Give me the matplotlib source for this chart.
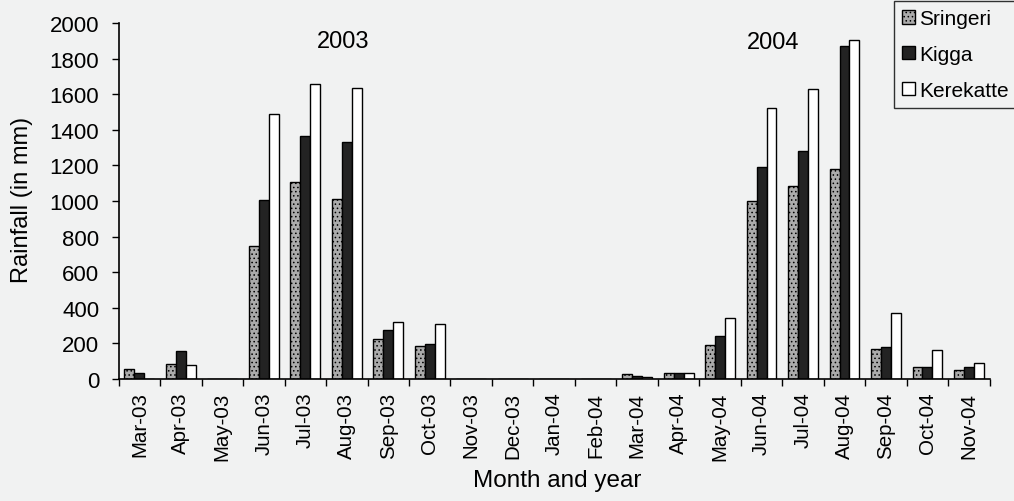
import numpy as np
import matplotlib
matplotlib.use("Agg")
import matplotlib.pyplot as plt

plt.rcParams["font.family"] = ["Liberation Sans", "DejaVu Sans"]
plt.rcParams["hatch.linewidth"] = 0.6

months = ["Mar-03", "Apr-03", "May-03", "Jun-03", "Jul-03", "Aug-03", "Sep-03",
          "Oct-03", "Nov-03", "Dec-03", "Jan-04", "Feb-04", "Mar-04", "Apr-04",
          "May-04", "Jun-04", "Jul-04", "Aug-04", "Sep-04", "Oct-04", "Nov-04"]
sringeri = [56, 84, 0, 745, 1105, 1010, 225, 187, 0, 0, 0, 0,
            30, 32, 189, 1000, 1086, 1180, 168, 67, 48]
kigga = [34, 159, 0, 1007, 1363, 1330, 275, 197, 0, 0, 0, 0,
         17, 32, 242, 1193, 1279, 1870, 181, 67, 67]
kerekatte = [0, 79, 0, 1489, 1657, 1633, 318, 309, 0, 0, 0, 0,
             10, 35, 344, 1524, 1627, 1906, 372, 163, 90]
series = [("Sringeri", sringeri), ("Kigga", kigga), ("Kerekatte", kerekatte)]
styles = {"Sringeri": dict(color="#ababab", hatch="...."),
          "Kigga": dict(color="#232323", hatch=None),
          "Kerekatte": dict(color="white", hatch=None)}
years = [("2003", 4.92, 1900), ("2004", 15.29, 1893)]

bg = "#f1f2f2"
fig = plt.figure(figsize=(10.14, 5.02), dpi=100, facecolor=bg)
ax = fig.add_axes([0.117, 0.243, 0.859, 0.709], facecolor=bg)

x = np.arange(len(months))
w = 0.24
for i, (name, vals) in enumerate(series):
    st = styles[name]
    ax.bar(x + (i - 1) * w, vals, w, color=st["color"], hatch=st["hatch"],
           edgecolor="black", linewidth=1.0, label=name)

for label, xpos, ypos in years:
    ax.text(xpos, ypos, label, ha="center", va="center", fontsize=17)

ax.set_xlim(-0.5, len(months) - 0.5)
ax.set_ylim(0, 2000)
ax.set_yticks(np.arange(0, 2001, 200))
ax.set_xticks(x)
ax.set_xticklabels(months, rotation=90, fontsize=14.8)
ax.set_xticks(np.arange(-0.5, len(months), 1), minor=True)
ax.tick_params(axis="x", which="major", length=0, pad=9)
ax.tick_params(axis="x", which="minor", length=5, width=1)
ax.tick_params(axis="y", labelsize=16, length=5, width=1, pad=9)
for s in ["top", "right"]:
    ax.spines[s].set_visible(False)
ax.spines["left"].set_linewidth(1.2)
ax.spines["bottom"].set_linewidth(1.2)

ax.set_ylabel("Rainfall (in mm)", fontsize=17)
ax.yaxis.set_label_coords(-0.098, 0.506)
ax.set_xlabel("Month and year", fontsize=17.5)
ax.xaxis.set_label_coords(0.503, -0.252)

leg = ax.legend(loc="upper left", bbox_to_anchor=(0.89, 1.062), fontsize=15,
                frameon=True, fancybox=False, edgecolor="black",
                handlelength=0.6, handleheight=0.6, handletextpad=0.2,
                borderpad=0.4, labelspacing=0.8, borderaxespad=0)
leg.get_frame().set_facecolor(bg)

fig.savefig("out.png", dpi=100, facecolor=bg)
